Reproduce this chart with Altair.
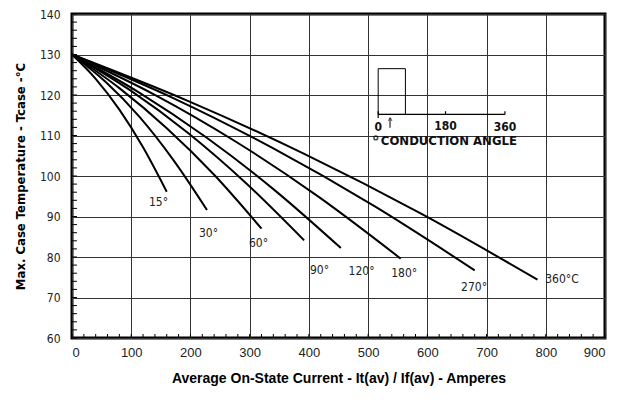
import altair as alt
import pandas as pd

# Curves (current in A, case temperature in °C)
angles = ["15", "30", "60", "90", "120", "180", "270", "360"]
curve_x = {
    "15": [0, 40, 80, 120, 160],
    "30": [0, 57, 114, 171, 228],
    "60": [0, 80, 160, 240, 320],
    "90": [0, 98, 196, 294, 392],
    "120": [0, 113.5, 227, 340.5, 454],
    "180": [0, 139, 277.5, 416, 555],
    "270": [0, 170, 340, 510, 680],
    "360": [0, 196.5, 393, 589.5, 786],
}
curve_y = {
    "15": [130, 124.0, 116.4, 107.1, 96.1],
    "30": [130, 123.2, 114.6, 104.0, 91.6],
    "60": [130, 121.7, 111.8, 100.3, 87.0],
    "90": [130, 121.2, 110.6, 98.2, 84.1],
    "120": [130, 120.6, 109.5, 96.7, 82.2],
    "180": [130, 120.1, 108.4, 94.9, 79.6],
    "270": [130, 119.3, 106.8, 92.6, 76.7],
    "360": [130, 118.5, 105.4, 90.7, 74.4],
}

# Curve labels
label_text = ["15°", "30°", "60°", "90°", "120°", "180°", "270°"]
label_x = [146, 230.5, 315, 418, 489, 561, 679]
label_y = [93.5, 85.9, 83.4, 76.7, 76.5, 76.0, 72.5]
last_label = ["360°C"]
last_label_x = [799]
last_label_y = [74.5]

# Axis ticks
x_ticks = [0, 100, 200, 300, 400, 500, 600, 700, 800, 900]
y_ticks = [60, 70, 80, 90, 100, 110, 120, 130, 140]
x_minor = list(range(0, 901, 20))
y_minor = list(range(60, 141, 2))

# Conduction angle inset
inset_rect_x, inset_rect_x2 = [517], [563]
inset_rect_y, inset_rect_y2 = [126.5], [115.2]
inset_base_x, inset_base_x2, inset_base_y = [517], [731], [115.2]
inset_tick_x = [517, 630.7, 731]
inset_tick_y = [116.0, 116.0, 116.0]
inset_tick_y2 = [114.3, 115.2, 115.2]
inset_arrow_x = [537]
inset_arrow_y, inset_arrow_y2 = [111.9], [114.3]
inset_num_text = ["0", "180", "360"]
inset_num_x = [517, 630.7, 731]
inset_num_y = [112.2, 112.4, 112.2]
inset_title = ["CONDUCTION ANGLE"]
inset_title_x, inset_title_y = [521.5], [108.6]
inset_o_x, inset_o_y = [513], [109.4]

rows = []
for a in angles:
    for xv, yv in zip(curve_x[a], curve_y[a]):
        rows.append({"angle": a, "x": xv, "y": yv})
curves = pd.DataFrame(rows)

W, H = 533, 324
xs = alt.Scale(domain=[0, 900], nice=False)
ys = alt.Scale(domain=[60, 140], nice=False)
NARROW = "DejaVu Sans Condensed, Liberation Sans, Arial, sans-serif"
SANS = "Liberation Sans, Arial, sans-serif"

base_axes = alt.Chart(curves).mark_line(
    color="black", strokeWidth=2, interpolate="monotone"
).encode(
    x=alt.X("x:Q", scale=xs, axis=alt.Axis(
        values=x_ticks, title="Average On-State Current - It(av) / If(av) - Amperes",
        grid=True, gridColor="#333333", gridWidth=1, domain=False, ticks=False,
        labelPadding=8, labelFontSize=13, labelFont=SANS, labelColor="#222",
        titleFont=SANS, titleFontSize=14, titleFontWeight="bold",
        titlePadding=12, titleColor="black")),
    y=alt.Y("y:Q", scale=ys, axis=alt.Axis(
        values=y_ticks, title="Max. Case Temperature - Tcase -°C",
        grid=True, gridColor="#333333", gridWidth=1, domain=False, ticks=False,
        labelPadding=12, labelFontSize=12, labelFont=NARROW, labelColor="#222",
        titleFont=NARROW, titleFontSize=13, titleFontWeight="bold",
        titlePadding=12, titleColor="black")),
    detail="angle:N",
    order="x:Q",
)

labels = alt.Chart(pd.DataFrame({"t": label_text, "x": label_x, "y": label_y})).mark_text(
    font=NARROW, fontSize=12, color="#222", align="center", baseline="middle"
).encode(x=alt.X("x:Q", scale=xs), y=alt.Y("y:Q", scale=ys), text="t:N")

label360 = alt.Chart(pd.DataFrame({"t": last_label, "x": last_label_x, "y": last_label_y})).mark_text(
    font=NARROW, fontSize=12, color="#222", align="left", baseline="middle"
).encode(x=alt.X("x:Q", scale=xs), y=alt.Y("y:Q", scale=ys), text="t:N")

ymin = alt.Chart(pd.DataFrame({"y": y_minor})).mark_rule(color="black", strokeWidth=1).encode(
    y=alt.Y("y:Q", scale=ys), x=alt.value(0), x2=alt.value(5))
xmin = alt.Chart(pd.DataFrame({"x": x_minor})).mark_rule(color="black", strokeWidth=1).encode(
    x=alt.X("x:Q", scale=xs), y=alt.value(H), y2=alt.value(H - 4))

rect = alt.Chart(pd.DataFrame({"x": inset_rect_x, "x2": inset_rect_x2,
                               "y": inset_rect_y, "y2": inset_rect_y2})).mark_rect(
    fill="white", fillOpacity=0, stroke="black", strokeWidth=1
).encode(x=alt.X("x:Q", scale=xs), x2="x2:Q", y=alt.Y("y:Q", scale=ys), y2="y2:Q")

baseline = alt.Chart(pd.DataFrame({"x": inset_base_x, "x2": inset_base_x2, "y": inset_base_y})).mark_rule(
    color="black", strokeWidth=1.2
).encode(x=alt.X("x:Q", scale=xs), x2="x2:Q", y=alt.Y("y:Q", scale=ys))

iticks = alt.Chart(pd.DataFrame({"x": inset_tick_x, "y": inset_tick_y, "y2": inset_tick_y2})).mark_rule(
    color="black", strokeWidth=1.2
).encode(x=alt.X("x:Q", scale=xs), y=alt.Y("y:Q", scale=ys), y2="y2:Q")

arrow = alt.Chart(pd.DataFrame({"x": inset_arrow_x, "y": inset_arrow_y, "y2": inset_arrow_y2})).mark_rule(
    color="black", strokeWidth=1
).encode(x=alt.X("x:Q", scale=xs), y=alt.Y("y:Q", scale=ys), y2="y2:Q")

arrowhead = alt.Chart(pd.DataFrame({"x": inset_arrow_x, "y": inset_arrow_y2})).mark_text(
    text="^", font=SANS, fontSize=9, color="black", baseline="top", dy=-1
).encode(x=alt.X("x:Q", scale=xs), y=alt.Y("y:Q", scale=ys))

inums = alt.Chart(pd.DataFrame({"t": inset_num_text, "x": inset_num_x, "y": inset_num_y})).mark_text(
    font=NARROW, fontSize=12, fontWeight="bold", color="#111", align="center", baseline="middle"
).encode(x=alt.X("x:Q", scale=xs), y=alt.Y("y:Q", scale=ys), text="t:N")

ititle = alt.Chart(pd.DataFrame({"t": inset_title, "x": inset_title_x, "y": inset_title_y})).mark_text(
    font=NARROW, fontSize=13, fontWeight="bold", color="#111", align="left", baseline="middle"
).encode(x=alt.X("x:Q", scale=xs), y=alt.Y("y:Q", scale=ys), text="t:N")

io = alt.Chart(pd.DataFrame({"x": inset_o_x, "y": inset_o_y})).mark_point(
    shape="circle", size=14, color="black", strokeWidth=1.5, filled=False
).encode(x=alt.X("x:Q", scale=xs), y=alt.Y("y:Q", scale=ys))

chart = alt.layer(
    base_axes, labels, label360, ymin, xmin, rect, baseline, iticks, arrow, arrowhead,
    inums, ititle, io
).properties(
    width=W, height=H,
    autosize=alt.AutoSizeParams(type="none"),
    padding={"left": 64, "top": 6, "right": 10, "bottom": 60},
    background="white",
).configure_view(stroke="black", strokeWidth=3)

chart.save("out.html", embed_options={"renderer": "svg", "actions": False})
